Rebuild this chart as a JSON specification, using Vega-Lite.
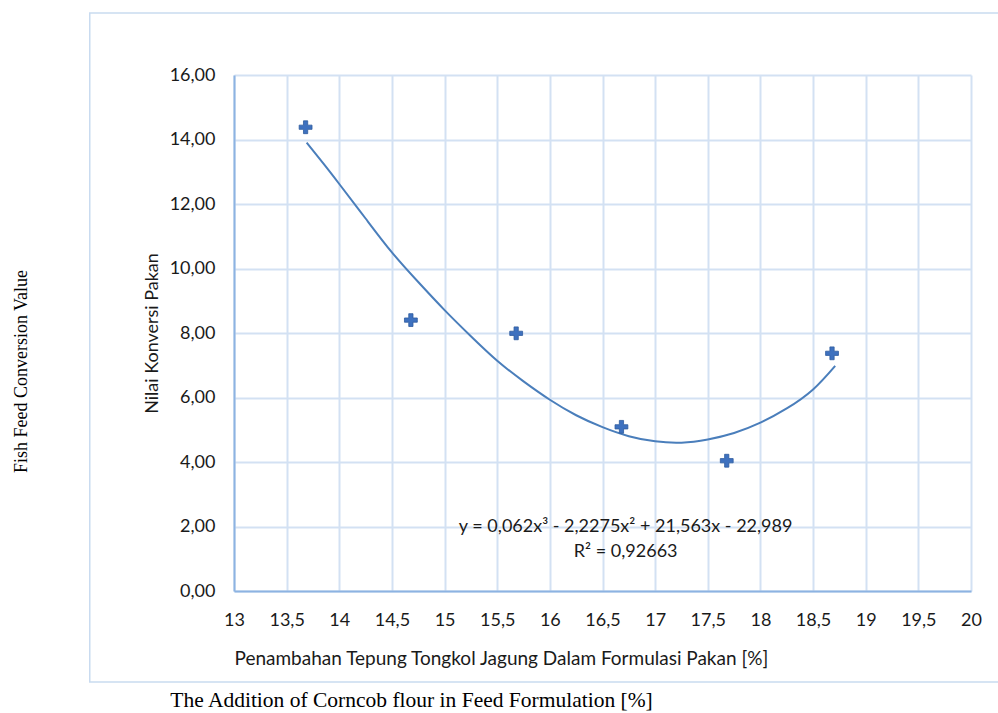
{
  "$schema": "https://vega.github.io/schema/vega-lite/v6.json",
  "width": 737,
  "height": 516,
  "autosize": {"type": "none"},
  "padding": {"left": 234, "top": 75, "right": 27, "bottom": 122},
  "background": "white",
  "config": {"view": {"stroke": null}, "font": "Lato"},
  "title": {
    "text": "The Addition of Corncob flour in Feed Formulation [%]",
    "orient": "bottom",
    "anchor": "middle",
    "frame": "group",
    "dx": -191,
    "offset": 7,
    "font": "Liberation Serif",
    "fontSize": 21.5,
    "fontWeight": "normal",
    "color": "#000000"
  },
  "datasets": {
    "points": [
      {"x": 13.68, "y": 14.38},
      {"x": 14.68, "y": 8.40},
      {"x": 15.68, "y": 7.99},
      {"x": 16.68, "y": 5.09},
      {"x": 17.68, "y": 4.04},
      {"x": 18.68, "y": 7.37}
    ],
    "curve": [
      {"x": 13.69, "y": 13.90},
      {"x": 13.85, "y": 13.25},
      {"x": 14.0, "y": 12.62},
      {"x": 14.25, "y": 11.55},
      {"x": 14.5, "y": 10.50},
      {"x": 14.75, "y": 9.58},
      {"x": 15.0, "y": 8.71},
      {"x": 15.25, "y": 7.90},
      {"x": 15.5, "y": 7.14},
      {"x": 15.75, "y": 6.50},
      {"x": 16.0, "y": 5.93},
      {"x": 16.25, "y": 5.45},
      {"x": 16.5, "y": 5.08},
      {"x": 16.75, "y": 4.80},
      {"x": 17.0, "y": 4.64},
      {"x": 17.25, "y": 4.60},
      {"x": 17.5, "y": 4.70},
      {"x": 17.75, "y": 4.90},
      {"x": 18.0, "y": 5.22},
      {"x": 18.25, "y": 5.66},
      {"x": 18.5, "y": 6.25},
      {"x": 18.71, "y": 6.98}
    ],
    "equation": [
      {"label": "y = 0,062x³ - 2,2275x² + 21,563x - 22,989\nR² = 0,92663"}
    ]
  },
  "layer": [
    {
      "layer": [
        {
          "data": {"values": [{}]},
          "mark": {"type": "rect", "fill": null, "stroke": "#C9DBF0", "strokeWidth": 1.5, "clip": false},
          "encoding": {
            "x": {"datum": 11.63, "type": "quantitative", "scale": {"domain": [13, 20], "nice": false, "zero": false}},
            "x2": {"datum": 20.3},
            "y": {"datum": 17.92, "type": "quantitative", "scale": {"domain": [0, 16], "nice": false}},
            "y2": {"datum": -2.82}
          }
        },
        {
          "data": {"name": "curve"},
          "mark": {"type": "line", "color": "#4A7EBB", "strokeWidth": 2, "interpolate": "natural"},
          "encoding": {
            "x": {"field": "x", "type": "quantitative", "scale": {"domain": [13, 20], "nice": false, "zero": false},
              "axis": {
                "values": [13, 13.5, 14, 14.5, 15, 15.5, 16, 16.5, 17, 17.5, 18, 18.5, 19, 19.5, 20],
                "labelExpr": "replace(format(datum.value, ''), '.', ',')",
                "title": "Penambahan Tepung Tongkol Jagung Dalam Formulasi Pakan [%]",
                "titleFont": "Lato", "titleFontSize": 19, "titleFontWeight": "normal", "titleColor": "#1a1a1a",
                "titlePadding": 20, "titleAnchor": "start", "titleX": 0,
                "labelFont": "Lato", "labelFontSize": 18, "labelColor": "#1a1a1a", "labelPadding": 20,
                "labelFlush": false, "labelOverlap": false,
                "ticks": false, "tickSize": 0,
                "domainColor": "#8DB3E2", "domainWidth": 2,
                "grid": true, "gridColor": "#D3E1F3", "gridWidth": 2
              }},
            "y": {"field": "y", "type": "quantitative", "scale": {"domain": [0, 16], "nice": false},
              "axis": {
                "values": [0, 2, 4, 6, 8, 10, 12, 14, 16],
                "labelExpr": "replace(format(datum.value, '.2f'), '.', ',')",
                "title": "Nilai Konversi Pakan",
                "titleFont": "Lato", "titleFontSize": 18, "titleFontWeight": "normal", "titleColor": "#1a1a1a",
                "titlePadding": 8,
                "labelFont": "Lato", "labelFontSize": 18, "labelColor": "#1a1a1a", "labelPadding": 19,
                "labelFlush": false, "labelOverlap": false,
                "ticks": false, "tickSize": 0,
                "domainColor": "#8DB3E2", "domainWidth": 2,
                "grid": true, "gridColor": "#D3E1F3", "gridWidth": 2
              }}
          }
        },
        {
          "data": {"name": "points"},
          "mark": {"type": "point", "shape": "M-0.33,-1H0.33V-0.33H1V0.33H0.33V1H-0.33V0.33H-1V-0.33H-0.33Z", "filled": true, "size": 165, "color": "#3E71BF", "stroke": "#2F5C9E", "strokeWidth": 0.8, "opacity": 1},
          "encoding": {
            "x": {"field": "x", "type": "quantitative", "scale": {"domain": [13, 20], "nice": false, "zero": false}},
            "y": {"field": "y", "type": "quantitative", "scale": {"domain": [0, 16], "nice": false}}
          }
        }
      ]
    },
    {
      "data": {"name": "equation"},
      "mark": {"type": "text", "font": "Lato", "fontSize": 18, "color": "#1a1a1a", "lineBreak": "\n", "lineHeight": 25, "align": "center", "baseline": "middle"},
      "encoding": {
        "text": {"field": "label"},
        "x": {"datum": 16.72, "type": "quantitative", "scale": {"domain": [13, 20], "nice": false, "zero": false}},
        "y": {"datum": 1.97, "type": "quantitative", "scale": {"domain": [0, 16], "nice": false},
          "axis": {
            "orient": "left",
            "title": "Fish Feed Conversion Value",
            "titleFont": "Liberation Serif", "titleFontSize": 18, "titleFontWeight": "normal", "titleColor": "#000000",
            "titlePadding": 204, "titleY": 296,
            "labels": false, "ticks": false, "domain": false, "grid": false
          }}
      }
    }
  ],
  "resolve": {"scale": {"y": "independent"}}
}
